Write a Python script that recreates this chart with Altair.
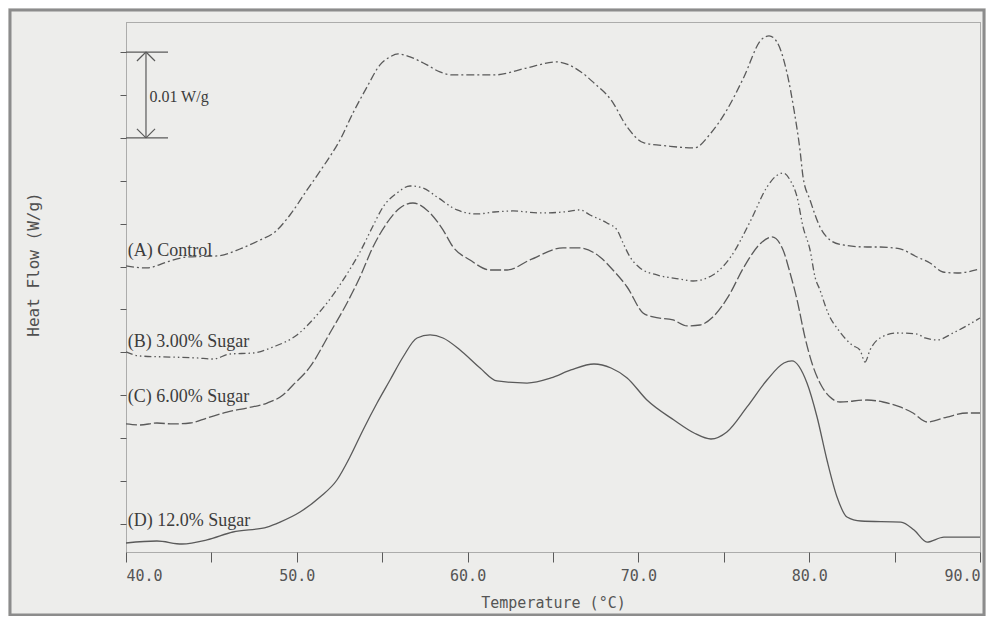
import altair as alt
import pandas as pd

# Temperature (°C) and heat flow (mW/g, arbitrary offset)
A_T = [40.00, 41.23, 42.40, 43.57, 45.33, 46.67, 47.85, 48.72, 49.60, 50.60, 51.53, 52.53, 53.29, 54.11, 54.87,
       55.46, 55.93, 56.63, 57.62, 58.38, 59.15, 61.55, 63.48, 65.18, 66.64, 67.40, 68.40, 69.34, 70.33, 71.67,
       73.26, 74.25, 75.18, 76.18, 77.18, 77.65, 78.11, 78.70, 79.11, 79.46, 79.64, 80.05, 80.63, 81.22, 81.98,
       83.38, 84.15, 85.32, 86.31, 87.07, 87.83, 88.65, 90.00]
A_V = [30.07, 29.84, 30.54, 31.12, 31.24, 32.05, 33.10, 34.03, 36.01, 38.93, 41.61, 44.76, 47.90, 50.93, 53.50,
       54.43, 54.78, 54.43, 53.50, 52.68, 52.33, 52.33, 53.15, 53.85, 52.68, 51.40, 49.42, 46.27, 44.41, 44.06,
       43.82, 45.57, 48.25, 52.10, 56.41, 56.88, 56.18, 52.56, 48.25, 43.59, 40.44, 37.76, 34.62, 33.10, 32.52,
       32.28, 32.28, 32.05, 31.12, 30.42, 29.37, 29.25, 29.72]

B_T = [40.00, 40.82, 42.58, 44.16, 45.09, 46.09, 47.44, 48.61, 50.01, 51.18, 52.12, 52.94, 53.70, 54.46, 55.05,
       55.87, 56.63, 57.39, 58.21, 59.38, 60.55, 61.55, 62.66, 64.24, 65.59, 66.58, 67.17, 68.16, 68.75, 69.10,
       69.51, 70.09, 71.09, 72.44, 73.20, 74.36, 75.36, 76.59, 77.53, 78.06, 78.47, 78.88, 79.29, 79.64, 80.05,
       80.34, 80.63, 81.10, 81.80, 82.51, 82.97, 83.27, 83.56, 84.15, 85.14, 86.31, 86.78, 87.48, 88.42, 90.00]
B_V = [20.05, 19.58, 19.46, 19.35, 19.23, 19.81, 19.93, 20.63, 22.03, 24.36, 26.69, 29.14, 31.70, 34.73, 36.95,
       38.58, 39.39, 39.16, 38.11, 36.60, 36.13, 36.36, 36.48, 36.25, 36.36, 36.60, 36.01, 35.08, 34.27, 32.75,
       31.12, 29.84, 29.02, 28.55, 28.32, 29.02, 31.00, 35.43, 39.28, 40.56, 40.91, 40.09, 38.11, 34.62, 31.93,
       28.79, 27.27, 24.59, 22.38, 20.86, 20.28, 18.88, 20.28, 21.68, 22.26, 22.14, 21.68, 21.45, 22.26, 24.01]

C_T = [40.00, 40.82, 41.81, 42.75, 43.75, 44.74, 45.91, 47.08, 48.26, 49.19, 49.78, 50.77, 51.94, 52.94, 53.70,
       54.46, 55.28, 56.04, 56.80, 57.80, 58.56, 59.15, 60.14, 61.31, 62.31, 63.65, 65.59, 66.58, 67.75, 68.51,
       69.34, 70.27, 70.86, 72.03, 72.85, 73.61, 74.36, 75.25, 76.18, 77.18, 77.82, 78.47, 78.88, 79.29, 79.75,
       80.16, 80.63, 81.22, 81.80, 83.38, 84.32, 85.32, 86.08, 86.90, 88.07, 89.24, 90.00]
C_V = [11.66, 11.54, 11.77, 11.66, 11.77, 12.35, 13.05, 13.52, 14.10, 15.03, 16.20, 18.30, 22.26, 25.76, 28.79,
       32.28, 35.08, 36.83, 37.41, 36.25, 34.27, 32.28, 30.77, 29.60, 29.60, 30.77, 32.17, 32.17, 31.12, 29.60,
       27.62, 24.59, 24.13, 23.78, 23.08, 23.19, 24.13, 26.46, 29.95, 32.75, 33.45, 31.93, 29.25, 26.11, 21.79,
       18.76, 16.43, 14.80, 14.22, 14.45, 14.22, 13.64, 12.94, 11.89, 12.47, 12.94, 12.94]

D_T = [40.00, 41.81, 43.28, 44.74, 46.26, 48.26, 49.02, 50.19, 51.36, 52.35, 53.11, 53.88, 54.70, 55.46, 56.22,
       57.04, 57.80, 58.56, 59.56, 60.73, 61.72, 63.48, 64.88, 66.05, 67.40, 68.40, 69.34, 70.50, 72.08, 73.26,
       74.25, 75.18, 76.36, 77.53, 78.52, 78.99, 79.87, 80.46, 81.04, 81.63, 82.21, 83.03, 85.37, 86.14, 86.90,
       87.89, 90.00]
D_V = [-2.21, -1.98, -2.33, -1.86, -0.93, -0.35, 0.23, 1.40, 3.15, 5.13, 7.81, 10.96, 14.10, 16.78, 19.46,
       21.68, 22.03, 21.68, 20.28, 18.18, 16.67, 16.43, 17.02, 17.95, 18.65, 18.18, 17.02, 14.45, 12.12, 10.61,
       9.91, 10.72, 13.64, 16.78, 18.76, 19.00, 16.43, 12.47, 7.46, 3.15, 0.82, 0.35, 0.23, -0.70, -2.10,
       -1.52, -1.52]

LABELS = ["(A) Control", "(B) 3.00% Sugar", "(C) 6.00% Sugar", "(D) 12.0% Sugar"]
LABEL_T = [40.05, 40.05, 40.05, 40.05]
LABEL_V = [31.24, 20.63, 14.22, -0.23]

X_TICKS = [40, 45, 50, 55, 60, 65, 70, 75, 80, 85, 90]
Y_TICKS = [0, 5, 10, 15, 20, 25, 30, 35, 40, 45, 50, 55]

# scale bar: 0.01 W/g = 10 mW/g between 45 and 55
BAR_T0, BAR_T1, BAR_TC = 40.0, 42.46, 41.17
BAR_LOW, BAR_HIGH = 45.0, 55.0
BAR_TEXT = "0.01 W/g"

INK = "#5a5a5a"
BG = "#ededeb"
MONO = "DejaVu Sans Mono"
SERIF = "Liberation Serif"

xs = alt.Scale(domain=[40, 90], nice=False, zero=False)
ys = alt.Scale(domain=[-3.26, 58.5], nice=False, zero=False)

x_axis = alt.Axis(values=X_TICKS, tickSize=10, tickColor=INK, domain=False, grid=False,
                  labelExpr="datum.value % 10 == 0 ? format(datum.value, '.1f') : ''",
                  labelFont=MONO, labelFontSize=15, labelColor="#555555", labelPadding=6,
                  title="Temperature (°C)", titleFont=MONO, titleFontSize=15, titleFontWeight="normal",
                  titleColor="#555555", titleBaseline="alphabetic", titleY=55)
y_axis = alt.Axis(values=Y_TICKS, tickSize=6, tickColor=INK, domain=False, grid=False, labels=False,
                  title="Heat Flow (W/g)", titleFont=MONO, titleFontSize=16, titleFontWeight="normal",
                  titleColor="#505050", titleX=-93, titleY=242, titleAngle=-90, titleBaseline="middle")


def X(field):
    return alt.X(field, scale=xs, axis=x_axis)


def Y(field):
    return alt.Y(field, scale=ys, axis=y_axis)


def series_layer(T, V, dash):
    df = pd.DataFrame({"T": T, "V": V})
    kw = dict(color=INK, strokeWidth=1.3, interpolate="monotone")
    if dash:
        kw["strokeDash"] = dash
    return alt.Chart(df).mark_line(**kw).encode(x=X("T:Q"), y=Y("V:Q"))


layers = [
    series_layer(A_T, A_V, [8, 3, 2, 3]),
    series_layer(B_T, B_V, [7, 3, 1.5, 3, 1.5, 3]),
    series_layer(C_T, C_V, [11, 3]),
    series_layer(D_T, D_V, None),
]

lab_df = pd.DataFrame({"T": LABEL_T, "V": LABEL_V, "label": LABELS})
labels = alt.Chart(lab_df).mark_text(align="left", baseline="alphabetic", font=SERIF, fontSize=18,
                                     color="#3c3c3c", dx=1).encode(
    x=X("T:Q"), y=Y("V:Q"), text="label:N")

seg_df = pd.DataFrame({
    "T": [BAR_T0, BAR_T0, BAR_TC, BAR_TC, BAR_TC, BAR_TC, BAR_TC],
    "T2": [BAR_T1, BAR_T1, BAR_TC, BAR_TC - 0.53, BAR_TC + 0.53, BAR_TC - 0.53, BAR_TC + 0.53],
    "V": [BAR_HIGH, BAR_LOW, BAR_LOW, BAR_HIGH, BAR_HIGH, BAR_LOW, BAR_LOW],
    "V2": [BAR_HIGH, BAR_LOW, BAR_HIGH, BAR_HIGH - 1.05, BAR_HIGH - 1.05, BAR_LOW + 1.05, BAR_LOW + 1.05],
})
scalebar = alt.Chart(seg_df).mark_rule(color=INK, strokeWidth=1.2).encode(
    x=X("T:Q"), x2="T2:Q", y=Y("V:Q"), y2="V2:Q")

bar_txt = alt.Chart(pd.DataFrame({"T": [BAR_TC + 0.2], "V": [49.8], "t": [BAR_TEXT]})).mark_text(
    align="left", baseline="middle", font=SERIF, fontSize=16, color="#3c3c3c").encode(
    x=X("T:Q"), y=Y("V:Q"), text="t:N")

frame = alt.Chart(alt.Data(values=[{"a": 1}])).mark_rect(
    fillOpacity=0, stroke="#8c8c8c", strokeWidth=3).encode(
    x=alt.value(-116), x2=alt.value(858), y=alt.value(-12), y2=alt.value(593))

chart = alt.layer(*layers, labels, scalebar, bar_txt, frame).properties(
    width=854, height=530,
    padding={"left": 118, "top": 14, "right": 6, "bottom": 64},
    autosize=alt.AutoSizeParams(type="none"),
    background=BG,
).configure_view(stroke="#6a6a6a", strokeDash=[1, 1], strokeWidth=1)

chart.save("out.html", embed_options={"renderer": "svg", "actions": False})
